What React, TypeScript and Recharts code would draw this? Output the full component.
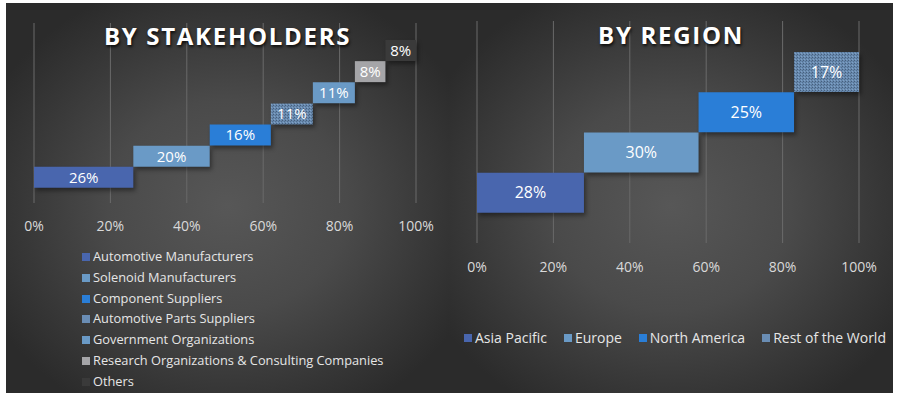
import { BarChart, Bar, XAxis, YAxis, CartesianGrid, Cell, LabelList } from "recharts";

const stakeholderNames = [
  "Automotive Manufacturers",
  "Solenoid Manufacturers",
  "Component Suppliers",
  "Automotive Parts Suppliers",
  "Government Organizations",
  "Research Organizations & Consulting Companies",
  "Others",
];
const stakeholderShares = [26, 20, 16, 11, 11, 8, 8];
const stakeholderColors = ["#4966ae", "#6a9ac6", "#2a7ed7", "url(#dotsL)", "#6a9ac6", "#a5a5a8", "#3a3a3a"];
const stakeholderSwatches = ["#4966ae", "#6a9ac6", "#2a7ed7", "#6a8db4", "#6a9ac6", "#a5a5a8", "#3a3a3a"];

const regionNames = ["Asia Pacific", "Europe", "North America", "Rest of the World"];
const regionShares = [28, 30, 25, 17];
const regionColors = ["#4966ae", "#6a9ac6", "#2a7ed7", "url(#dotsR)"];
const regionSwatches = ["#4966ae", "#6a9ac6", "#2a7ed7", "#6a8db4"];

const pctTicks = [0, 20, 40, 60, 80, 100];

const FONT = "'Open Sans', sans-serif";
const panelBg = "radial-gradient(ellipse 60% 60% at 50% 52%, #575757 0%, #4a4a4a 45%, #363636 80%, #2b2b2b 100%)";

// waterfall: each step starts where the previous one ended
function steps(names: string[], shares: number[]) {
  let run = 0;
  return names.map((name, i) => {
    const row = { name, base: run, share: shares[i] };
    run += shares[i];
    return row;
  });
}

function StepChart(props: {
  rows: { name: string; base: number; share: number }[];
  colors: string[];
  width: number;
  height: number;
  top: number;
  pad: { top: number; bottom: number };
  axisHeight: number;
  tickMargin: number;
  labelSize: number;
  patternId: string;
}) {
  const { rows, colors, width, height, top, pad, axisHeight, tickMargin, labelSize, patternId } = props;
  return (
    <BarChart
      layout="vertical"
      width={width}
      height={height}
      data={rows}
      margin={{ top, right: width - 410, bottom: 0, left: 28 }}
      barCategoryGap={0}
      style={{ position: "absolute", left: 0, top: 0 }}
    >
      <defs>
        <pattern id={patternId} width="3" height="3" patternUnits="userSpaceOnUse">
          <rect width="3" height="3" fill="#6889ae" />
          <rect x="0" y="0" width="1" height="1" fill="#465f7c" />
          <rect x="2" y="1" width="1" height="1" fill="#52708f" />
          <rect x="1" y="2" width="1" height="1" fill="#7fa2c6" />
        </pattern>
      </defs>
      <CartesianGrid horizontal={false} stroke="#6a6a6a" />
      <XAxis
        type="number"
        domain={[0, 100]}
        ticks={pctTicks}
        tickFormatter={(v) => `${v}%`}
        axisLine={false}
        tickLine={false}
        height={axisHeight}
        tickMargin={tickMargin}
        tick={{ fill: "#d9d9d9", fontSize: 14, fontFamily: FONT }}
      />
      <YAxis type="category" dataKey="name" hide reversed padding={pad} />
      <Bar dataKey="base" stackId="a" fill="transparent" isAnimationActive={false} />
      <Bar dataKey="share" stackId="a" isAnimationActive={false}>
        {rows.map((r, i) => (
          <Cell key={r.name} fill={colors[i]} style={{ filter: "drop-shadow(2px 3px 2px rgba(0,0,0,0.4))" }} />
        ))}
        <LabelList
          dataKey="share"
          position="center"
          formatter={(v: any) => `${v}%`}
          fill="#ffffff"
          fontSize={labelSize}
          fontFamily={FONT}
        />
      </Bar>
    </BarChart>
  );
}

const titleStyle: React.CSSProperties = {
  position: "absolute",
  left: 0,
  width: "100%",
  textAlign: "center",
  fontFamily: FONT,
  fontWeight: 700,
  fontSize: 24,
  lineHeight: 1,
  letterSpacing: 1.7,
  color: "#ffffff",
  textShadow: "1px 2px 3px rgba(0,0,0,0.8)",
  zIndex: 2,
};

const swatch = (c: string): React.CSSProperties => ({
  display: "inline-block",
  width: 8,
  height: 8,
  background: c,
  marginRight: 3,
});

export default function App() {
  const left = steps(stakeholderNames, stakeholderShares);
  const right = steps(regionNames, regionShares);
  return (
    <div style={{ position: "absolute", left: 0, top: 0, width: 901, height: 400, background: "#fff", overflow: "hidden" }}>
      <div style={{ position: "absolute", left: 6, top: 3, width: 443, height: 390, background: panelBg }}>
        <StepChart
          rows={left}
          colors={stakeholderColors}
          width={443}
          height={240}
          top={20}
          pad={{ top: 17, bottom: 15 }}
          axisHeight={40}
          tickMargin={12}
          labelSize={15}
          patternId="dotsL"
        />
        <div style={{ ...titleStyle, top: 21 }}>BY STAKEHOLDERS</div>
        <div style={{ position: "absolute", left: 76, top: 243, fontFamily: FONT, fontSize: 12.8, color: "#e6e6e6" }}>
          {stakeholderNames.map((n, i) => (
            <div key={n} style={{ height: 20.8, lineHeight: "20.8px", whiteSpace: "nowrap" }}>
              <span style={swatch(stakeholderSwatches[i])} />
              {n}
            </div>
          ))}
        </div>
      </div>
      <div style={{ position: "absolute", left: 449, top: 3, width: 444, height: 390, background: panelBg }}>
        <StepChart
          rows={right}
          colors={regionColors}
          width={444}
          height={290}
          top={18}
          pad={{ top: 31, bottom: 30 }}
          axisHeight={50}
          tickMargin={13}
          labelSize={16}
          patternId="dotsR"
        />
        <div style={{ ...titleStyle, top: 20 }}>BY REGION</div>
        <div
          style={{
            position: "absolute",
            left: 8,
            right: 0,
            top: 325,
            display: "flex",
            justifyContent: "center",
            gap: 17,
            fontFamily: FONT,
            fontSize: 14,
            lineHeight: "20px",
            color: "#e6e6e6",
            whiteSpace: "nowrap",
          }}
        >
          {regionNames.map((n, i) => (
            <div key={n} style={{ display: "flex", alignItems: "center" }}>
              <span style={swatch(regionSwatches[i])} />
              {n}
            </div>
          ))}
        </div>
      </div>
    </div>
  );
}
